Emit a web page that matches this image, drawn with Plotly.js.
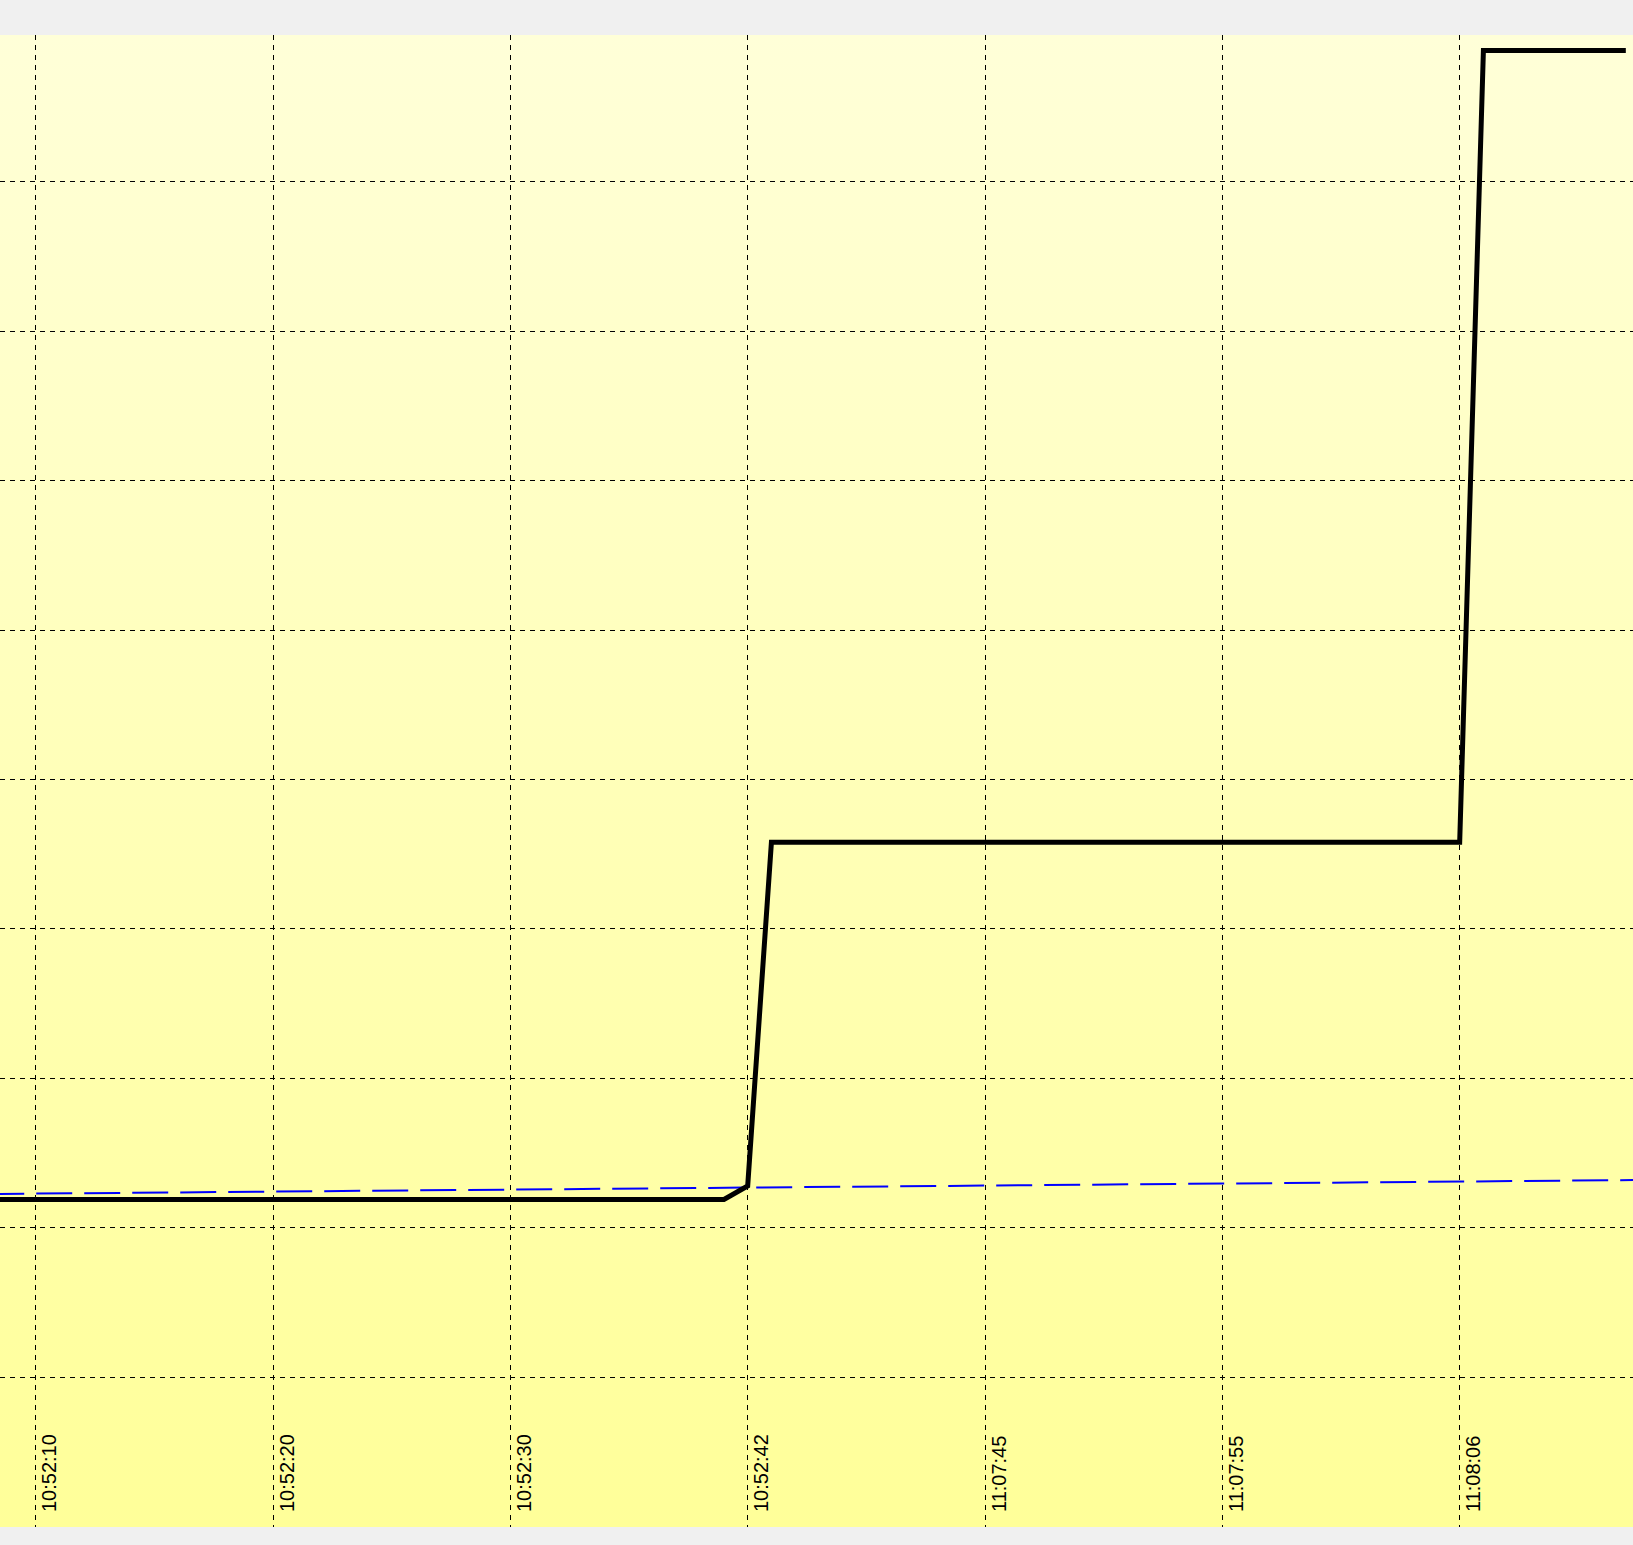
<!DOCTYPE html>
<html>
<head>
<meta charset="utf-8">
<script src="https://cdn.plot.ly/plotly-3.0.1.min.js"></script>
<style>
  html, body { margin: 0; padding: 0; background: #f0f0f0; }
  #chart { width: 1633px; height: 1545px; }
</style>
</head>
<body>
<div id="chart"></div>
<script>
// ---- data ----
const tickIndex  = [10, 20, 30, 40, 50, 60, 70];
const tickLabels = ["10:52:10", "10:52:20", "10:52:30", "10:52:42", "11:07:45", "11:07:55", "11:08:06"];

const sampleIndex = [
  8, 9, 10, 11, 12, 13, 14, 15, 16, 17, 18, 19, 20, 21, 22, 23, 24, 25, 26, 27,
  28, 29, 30, 31, 32, 33, 34, 35, 36, 37, 38, 39, 40, 41, 42, 43, 44, 45, 46, 47,
  48, 49, 50, 51, 52, 53, 54, 55, 56, 57, 58, 59, 60, 61, 62, 63, 64, 65, 66, 67,
  68, 69, 70, 71, 72, 73, 74, 75, 76, 77
];
const measuredValues = [
  1.19, 1.19, 1.19, 1.19, 1.19, 1.19, 1.19, 1.19, 1.19, 1.19, 1.19, 1.19, 1.19, 1.19, 1.19, 1.19, 1.19, 1.19, 1.19, 1.19,
  1.19, 1.19, 1.19, 1.19, 1.19, 1.19, 1.19, 1.19, 1.19, 1.19, 1.19, 1.19, 1.28, 3.58, 3.58, 3.58, 3.58, 3.58, 3.58, 3.58,
  3.58, 3.58, 3.58, 3.58, 3.58, 3.58, 3.58, 3.58, 3.58, 3.58, 3.58, 3.58, 3.58, 3.58, 3.58, 3.58, 3.58, 3.58, 3.58, 3.58,
  3.58, 3.58, 3.58, 8.88, 8.88, 8.88, 8.88, 8.88, 8.88, 8.88
];

const trendIndex  = [8, 78];
const trendValues = [1.226, 1.320];

// ---- background gradient (plot area) ----
const svg = '<svg xmlns="http://www.w3.org/2000/svg" width="10" height="100" preserveAspectRatio="none">' +
  '<defs><linearGradient id="g" x1="0" y1="0" x2="0" y2="1">' +
  '<stop offset="0" stop-color="#FFFFD8"/><stop offset="1" stop-color="#FFFF99"/>' +
  '</linearGradient></defs><rect width="10" height="100" fill="url(#g)"/></svg>';
const bgSrc = 'data:image/svg+xml;base64,' + btoa(svg);

const traces = [
  {
    x: trendIndex, y: trendValues, type: 'scatter', mode: 'lines',
    line: { color: '#0000FF', width: 2, dash: '36px,12px' },
    hoverinfo: 'skip', showlegend: false
  },
  {
    x: sampleIndex, y: measuredValues, type: 'scatter', mode: 'lines',
    line: { color: '#000000', width: 5 },
    showlegend: false
  }
];

const gridStyle = { gridcolor: '#000000', gridwidth: 1, griddash: '5px,5px' };

const layout = {
  width: 1633, height: 1545,
  margin: { l: 0, r: 0, t: 35, b: 18, pad: 0 },
  paper_bgcolor: '#f0f0f0',
  plot_bgcolor: 'rgba(0,0,0,0)',
  showlegend: false,
  images: [{
    source: bgSrc, xref: 'paper', yref: 'paper', x: 0, y: 1, sizex: 1, sizey: 1,
    sizing: 'stretch', xanchor: 'left', yanchor: 'top', layer: 'below'
  }],
  xaxis: Object.assign({
    range: [8.4958, 77.303],
    tickmode: 'array', tickvals: tickIndex, ticktext: tickLabels,
    showgrid: true, zeroline: false, showline: false, ticks: '',
    tickangle: -90, ticklabelposition: 'inside', ticklabelshift: 14, ticklabelstandoff: 5,
    tickfont: { family: 'Liberation Sans, Arial, sans-serif', size: 20, color: '#000000' },
    fixedrange: true
  }, gridStyle),
  yaxis: Object.assign({
    range: [-1.0027, 8.983],
    tick0: 0, dtick: 1,
    showgrid: true, zeroline: false, showline: false, ticks: '', showticklabels: false,
    fixedrange: true
  }, gridStyle)
};

Plotly.newPlot('chart', traces, layout, { displayModeBar: false, staticPlot: true });
</script>
</body>
</html>
